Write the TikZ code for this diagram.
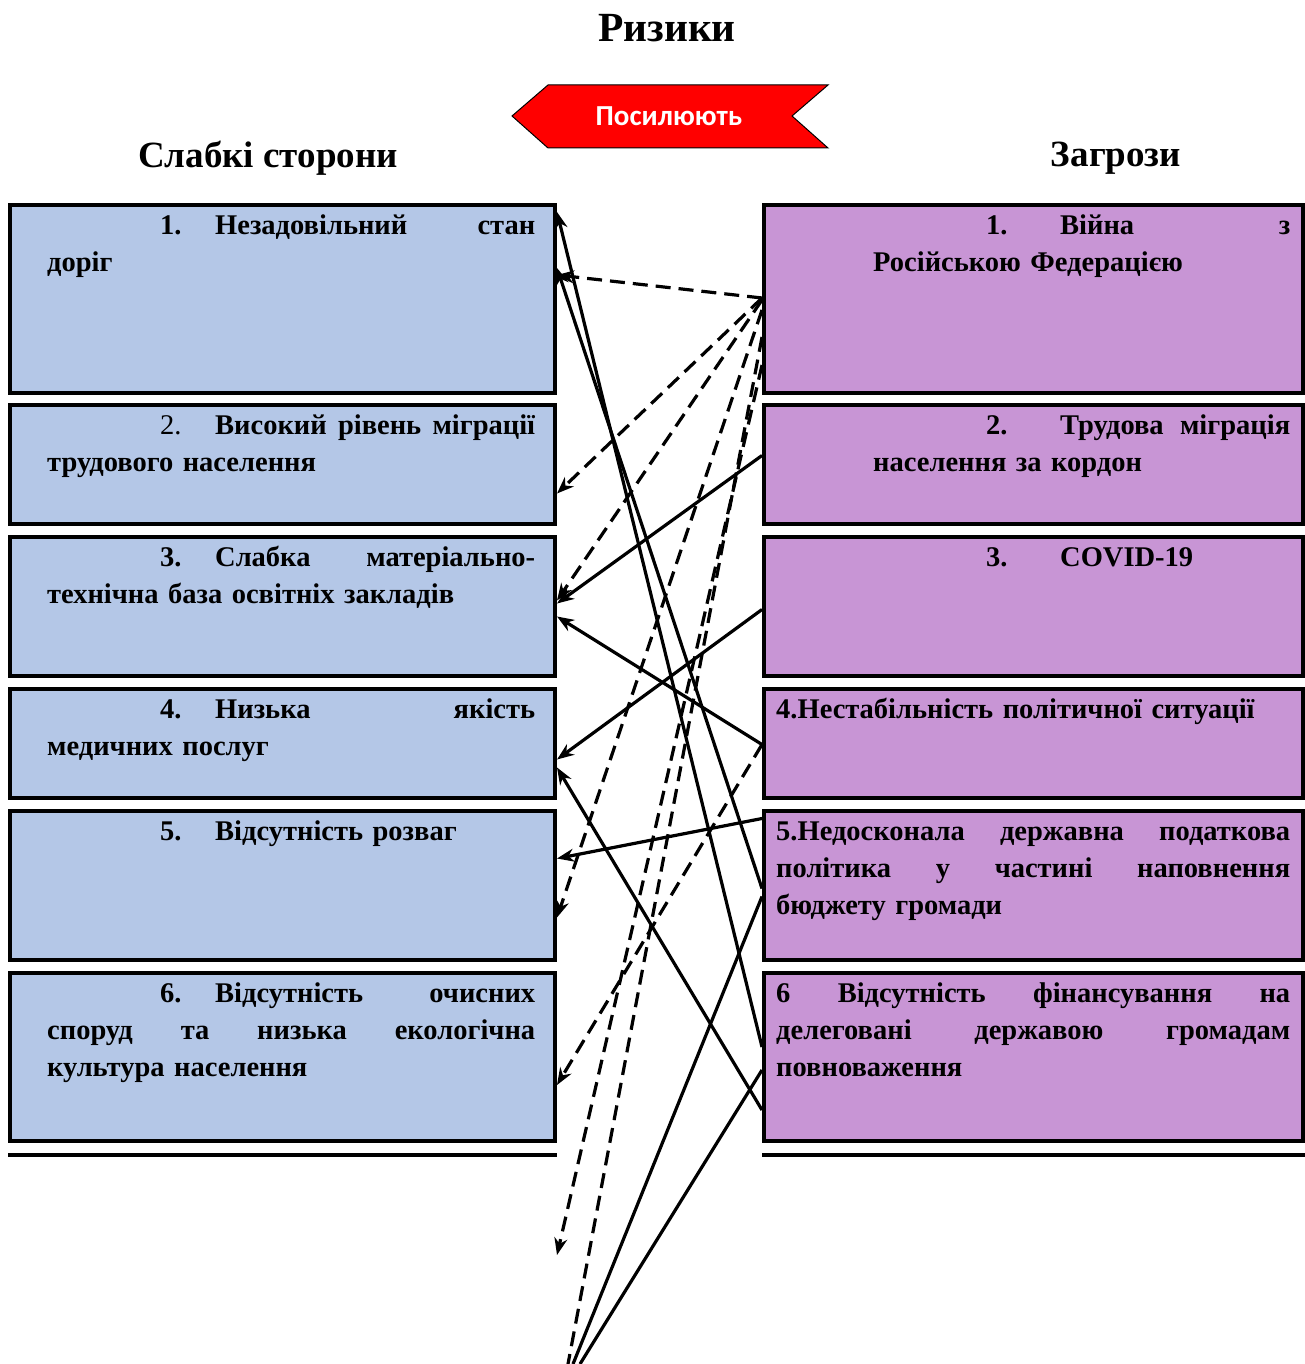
\documentclass[tikz,border=0pt]{standalone}
\usepackage{fontspec}
\setmainfont{Liberation Serif}
\newfontfamily\bannerfont{Carlito}
\usetikzlibrary{arrows.meta,positioning}

\definecolor{weakblue}{HTML}{B4C7E7}
\definecolor{threatlilac}{HTML}{C895D5}

\begin{document}
\begin{tikzpicture}[x=1pt, y=-1pt,
  lbox/.style={rectangle, draw=black, line width=4pt, fill=weakblue, minimum width=545pt, inner sep=0pt},
  rbox/.style={rectangle, draw=black, line width=4pt, fill=threatlilac, minimum width=539pt, inner sep=0pt},
  txt/.style={anchor=north west, inner sep=0pt, font=\bfseries\fontsize{28.5}{37}\selectfont, align=left},
  head/.style={font=\bfseries\fontsize{37}{42}\selectfont},
  link/.style={line width=3.2pt, -{Stealth[length=17pt,width=13pt]}},
  dlink/.style={link, dash pattern=on 15pt off 8pt}]
\useasboundingbox (0,0) rectangle (1305,1364);

% titles
\node[font=\bfseries\fontsize{41.5}{46}\selectfont] (title) at (667,28) {Ризики};
\node[head] (weak) at (268,158) {Слабкі сторони};
\node[head] (threat) at (1116,158) {Загрози};

% banner
\draw[fill=red, line width=1pt] (512,116) -- (548,85) -- (828,85) -- (792,116) -- (828,148) -- (548,148) -- cycle;
\node[text=white, font=\bannerfont\bfseries\fontsize{29}{32}\selectfont] (boost) at (669,116) {Посилюють};

% weak sides
\node[lbox, minimum height=188pt] (l1) at (282.5,299) {};
\node[lbox, minimum height=119pt] (l2) at (282.5,464.5) {};
\node[lbox, minimum height=139pt] (l3) at (282.5,606.5) {};
\node[lbox, minimum height=109pt] (l4) at (282.5,743.5) {};
\node[lbox, minimum height=149pt] (l5) at (282.5,885.5) {};
\node[lbox, minimum height=168pt] (l6) at (282.5,1057) {};

\node[txt, text width=488pt] (l1t) at ([shift={(39,5)}]l1.north west) {\strut\hspace*{113pt}\makebox[55pt][l]{1.}\makebox[320pt]{Незадовільний\hfill стан}\\доріг};
\node[txt, text width=488pt] (l2t) at ([shift={(39,5)}]l2.north west) {\strut\hspace*{113pt}\makebox[55pt][l]{\mdseries 2.}\makebox[320pt]{Високий\hfill рівень\hfill міграції}\\трудового населення};
\node[txt, text width=488pt] (l3t) at ([shift={(39,5)}]l3.north west) {\strut\hspace*{113pt}\makebox[55pt][l]{3.}\makebox[320pt]{Слабка\hfill матеріально-}\\технічна база освітніх закладів};
\node[txt, text width=488pt] (l4t) at ([shift={(39,5)}]l4.north west) {\strut\hspace*{113pt}\makebox[55pt][l]{4.}\makebox[320pt]{Низька\hfill якість}\\медичних послуг};
\node[txt, text width=488pt] (l5t) at ([shift={(39,5)}]l5.north west) {\strut\hspace*{113pt}\makebox[55pt][l]{5.}Відсутність розваг};
\node[txt, text width=488pt] (l6t) at ([shift={(39,5)}]l6.north west) {\strut\hspace*{113pt}\makebox[55pt][l]{6.}\makebox[320pt]{Відсутність\hfill очисних}\\\makebox[488pt]{споруд\hfill та\hfill низька\hfill екологічна}\\культура населення};

% threats
\node[rbox, minimum height=188pt] (r1) at (1033.5,299) {};
\node[rbox, minimum height=119pt] (r2) at (1033.5,464.5) {};
\node[rbox, minimum height=139pt] (r3) at (1033.5,606.5) {};
\node[rbox, minimum height=109pt] (r4) at (1033.5,743.5) {};
\node[rbox, minimum height=149pt] (r5) at (1033.5,885.5) {};
\node[rbox, minimum height=168pt] (r6) at (1033.5,1057) {};

\node[txt, text width=417pt] (r1t) at ([shift={(111,5)}]r1.north west) {\strut\hspace*{113pt}\makebox[74pt][l]{1.}\makebox[230pt]{Війна\hfill з}\\Російською Федерацією};
\node[txt, text width=417pt] (r2t) at ([shift={(111,5)}]r2.north west) {\strut\hspace*{113pt}\makebox[74pt][l]{2.}\makebox[230pt]{Трудова\hfill міграція}\\населення за кордон};
\node[txt, text width=417pt] (r3t) at ([shift={(111,5)}]r3.north west) {\strut\hspace*{113pt}\makebox[74pt][l]{3.}COVID-19};
\node[txt, text width=514pt] (r4t) at ([shift={(14,5)}]r4.north west) {\strut 4.Нестабільність політичної ситуації};
\node[txt, text width=514pt] (r5t) at ([shift={(14,5)}]r5.north west) {\strut\makebox[514pt]{5.Недосконала\hfill державна\hfill податкова}\\\makebox[514pt]{політика\hfill у\hfill частині\hfill наповнення}\\бюджету громади};
\node[txt, text width=514pt] (r6t) at ([shift={(14,5)}]r6.north west) {\strut\makebox[514pt]{6\hfill Відсутність\hfill фінансування\hfill на}\\\makebox[514pt]{делеговані\hfill державою\hfill громадам}\\повноваження};

% double rules under the columns
\draw[line width=4pt] ([yshift=-12pt]l6.south west) -- ([yshift=-12pt]l6.south east);
\draw[line width=4pt] ([yshift=-12pt]r6.south west) -- ([yshift=-12pt]r6.south east);

% loose ends
\coordinate (tailA) at (557,1255);
\coordinate (tailB) at (568,1364);
\coordinate (footC) at (573,1364);
\coordinate (footD) at (580,1364);

% dashed links
\draw[dlink] ([yshift=1pt]r1.west) -- ([yshift=24pt]l1.east);
\draw[dlink] ([yshift=1pt]r1.west) -- ([yshift=-29pt]l2.east);
\draw[dlink] ([yshift=-1pt]r1.west) -- ([yshift=6pt]l3.east);
\draw[dlink] ([yshift=-11pt]r1.west) -- ([yshift=-32pt]l5.east);
\draw[dlink] ([yshift=-66pt]r1.west) -- (tailA);
\draw[line width=3.2pt, dash pattern=on 15pt off 8pt] ([yshift=-38pt]r1.west) -- (tailB);
\draw[dlink] ([yshift=-1pt]r4.west) -- ([yshift=-28pt]l6.east);

% solid links
\draw[link] ([yshift=9pt]r2.west) -- ([yshift=3pt]l3.east);
\draw[link] ([yshift=-3pt]r3.west) -- ([yshift=-16pt]l4.east);
\draw[link] ([yshift=-1pt]r4.west) -- ([yshift=-10pt]l3.east);
\draw[link] ([yshift=67pt]r5.west) -- ([yshift=27pt]l5.east);
\draw[link] ([yshift=-53pt]r6.west) -- ([yshift=-24pt]l4.east);
\draw[link] ([yshift=10pt]r6.west) -- ([yshift=87pt]l1.east);
\draw[link] ([yshift=-3pt]r5.west) -- ([yshift=31pt]l1.east);
\draw[line width=3.2pt] (footC) -- ([yshift=-11pt]r5.west);
\draw[line width=3.2pt] (footD) -- ([yshift=-13pt]r6.west);
\end{tikzpicture}
\end{document}
